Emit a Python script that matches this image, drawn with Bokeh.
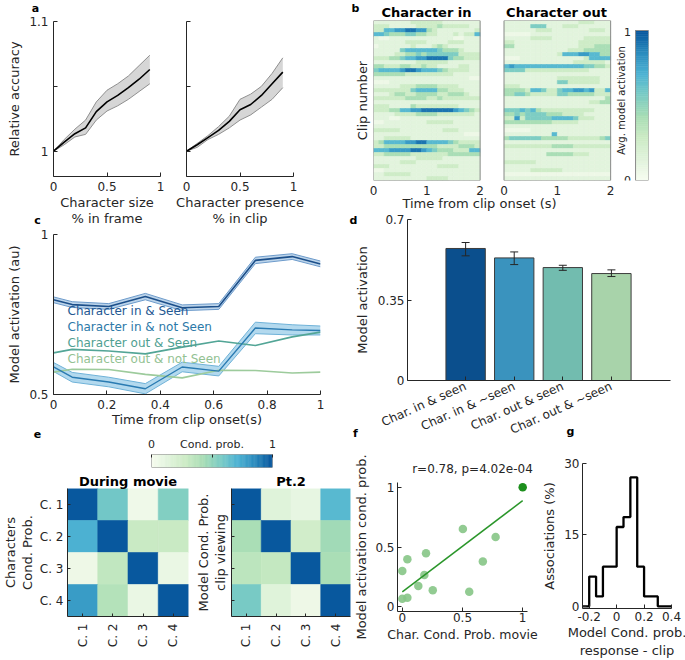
import numpy as np
from bokeh.plotting import figure
from bokeh.layouts import row, column
from bokeh.models import (Range1d, Label, ColumnDataSource, CustomJSTickFormatter,
                          Whisker, TeeHead)
from bokeh.transform import linear_cmap
from bokeh.embed import file_html
from bokeh.resources import INLINE

FONT = "DejaVu Sans"
INK = "#262626"

# ---------------- data ----------------
# panel a
A_X = [0.0, 0.1, 0.2, 0.3, 0.4, 0.5, 0.6, 0.7, 0.8, 0.9]
SIZE_MEAN = [1.000, 1.007, 1.0135, 1.018, 1.0305, 1.038, 1.043, 1.049, 1.0555, 1.063]
SIZE_UP = [1.000, 1.009, 1.017, 1.024, 1.038, 1.047, 1.052, 1.058, 1.066, 1.074]
SIZE_LO = [1.000, 1.005, 1.011, 1.013, 1.024, 1.031, 1.035, 1.040, 1.046, 1.052]
PRES_MEAN = [1.000, 1.005, 1.0105, 1.016, 1.023, 1.032, 1.036, 1.043, 1.052, 1.061]
PRES_UP = [1.000, 1.006, 1.012, 1.019, 1.027, 1.040, 1.044, 1.050, 1.060, 1.072]
PRES_LO = [1.000, 1.003, 1.009, 1.013, 1.018, 1.024, 1.028, 1.034, 1.040, 1.049]

# panel b (levels 0-9 per time bin, rows = clips, top to bottom)
B_DT = 0.1
CHAR_IN = [
    "22222 22333 33322 22222", "33322 22233 33433 33322", "33667 78877 43222 22223",
    "66544 45544 33222 32336", "21122 22222 22222 11222", "22222 23333 22223 33222",
    "12222 22322 23432 22222", "22222 56666 66544 43222", "22223 34454 55555 53333",
    "33344 56677 88885 44333", "22222 22233 33332 22222", "44333 44334 33222 23322",
    "56666 78876 66543 33322", "44444 43333 33333 22222", "22222 22222 22222 22211",
    "11122 22222 22222 22222", "22222 33344 44333 32222", "33333 33566 66443 33222",
    "22234 43344 44334 44322", "33333 34444 33433 33333", "22222 22222 22222 22222",
    "33322 22433 33333 32222", "33344 66778 88888 76543", "22223 33344 44333 33332",
    "22211 22222 22222 22222", "11222 22222 33333 22222", "22222 22222 22222 22222",
    "33333 22222 22233 32222", "22222 22222 22222 22111", "22333 33222 22222 22222",
    "34666 67788 66665 43333", "33444 44444 44333 34443", "66677 77887 65444 33366",
    "33444 44333 33334 44444", "22222 22233 33322 22222", "22222 33322 22222 22222",
    "33322 22222 22333 32222", "11222 22222 22222 22222", "22333 33222 22222 22222",
    "22222 22222 33332 22222",
]
CHAR_OUT = [
    "22222 22222 22223 33222", "22222 55522 23332 22222", "22222 23332 22222 23332",
    "11111 22222 22222 22222", "22222 33332 22222 33333", "33222 22222 22223 33333",
    "44222 22222 22223 33444", "22222 22222 22333 44444", "22222 22222 36667 76644",
    "11122 22222 22222 36666", "22222 22222 22233 33332", "67666 66666 66666 55443",
    "55553 33333 33333 32222", "22222 22222 22222 22222", "22222 22222 33333 33322",
    "22222 22222 55333 33322", "33322 22222 22222 22222", "44443 66533 56677 67336",
    "44554 33333 55444 44333", "22222 22222 22222 22224", "22222 22222 22222 23344",
    "22222 22222 22222 22222", "55565 64333 33333 33222", "44545 55544 43333 22222",
    "33735 55556 66653 33222", "44444 44443 33332 22222", "22222 22222 22222 22222",
    "11111 22222 22222 22222", "22222 22226 22222 22222", "45555 55444 44333 33345",
    "22222 22222 22222 22222", "33333 33334 44433 33333", "22222 22222 22222 22222",
    "22222 22244 44433 32222", "22222 22222 22222 22222", "33333 32222 22222 22222",
    "22222 22222 22222 22222", "22222 33333 32222 22222", "11111 11111 11111 11111",
    "22222 22222 22222 22222",
]
LEVEL_VALUE = [0.0, 0.06, 0.13, 0.27, 0.42, 0.56, 0.68, 0.80, 0.92, 1.0]

# panel c
C_X = [0.0, 0.07, 0.207, 0.344, 0.482, 0.619, 0.756, 0.894, 1.0]
IN_SEEN = [0.796, 0.781, 0.775, 0.806, 0.771, 0.775, 0.919, 0.931, 0.908]
IN_SEEN_ERR = [0.009, 0.009, 0.009, 0.010, 0.009, 0.009, 0.010, 0.009, 0.009]
IN_NOT = [0.586, 0.554, 0.539, 0.518, 0.586, 0.573, 0.708, 0.702, 0.700]
IN_NOT_ERR = [0.014, 0.015, 0.015, 0.016, 0.015, 0.015, 0.018, 0.016, 0.014]
OUT_SEEN = [0.630, 0.641, 0.636, 0.627, 0.648, 0.667, 0.653, 0.680, 0.695]
OUT_NOT = [0.570, 0.579, 0.578, 0.563, 0.552, 0.576, 0.575, 0.567, 0.570]
C_LEGEND = ["Character in & Seen", "Character in & not Seen",
            "Character out & Seen", "Character out &  not Seen"]

# panel d
D_LABELS = ["Char. in & seen", "Char. in & ~seen", "Char. out & seen", "Char. out & ~seen"]
D_VALUES = [0.574, 0.533, 0.491, 0.465]
D_UP = [0.600, 0.559, 0.501, 0.481]
D_LO = [0.542, 0.504, 0.479, 0.452]

# panel e
E_LABELS = ["C. 1", "C. 2", "C. 3", "C. 4"]
E_MOVIE = [[1.00, 0.60, 0.05, 0.55],
           [0.72, 1.00, 0.30, 0.30],
           [0.06, 0.33, 1.00, 0.08],
           [0.80, 0.38, 0.08, 1.00]]
E_PT2 = [[1.00, 0.15, 0.10, 0.68],
         [0.42, 1.00, 0.25, 0.45],
         [0.35, 0.32, 1.00, 0.42],
         [0.58, 0.15, 0.06, 1.00]]

# panel f
F_X = [0.503, 0.775, 0.669, 0.556, 0.197, 0.042, 0.0, 0.183, 0.133, 0.253, 0.0, 0.042]
F_Y = [0.650, 0.583, 0.378, 0.126, 0.448, 0.398, 0.300, 0.266, 0.174, 0.137, 0.067, 0.076]
F_DIAG_X = [1.0]
F_DIAG_Y = [1.0]
FIT_X = [0.0, 1.0]
FIT_Y = [0.124, 0.888]
F_STAT = "r=0.78, p=4.02e-04"

# panel g
G_EDGES = [-0.25, -0.2, -0.15, -0.1, -0.05, 0.0, 0.05, 0.1, 0.15, 0.2, 0.25, 0.3, 0.35, 0.4]
G_PCT = [0.0, 6.25, 2.08, 8.33, 8.33, 16.67, 18.75, 27.08, 8.33, 2.08, 2.08, 0.0, 0.0]

# ---------------- helpers ----------------
GNBU8 = ["#f7fcf0", "#e0f3db", "#ccebc5", "#a8ddb5", "#7bccc4", "#4eb3d3", "#2b8cbe", "#08589e"]


def make_palette(anchors, n=256):
    rgb = np.array([[int(c[i:i + 2], 16) for i in (1, 3, 5)] for c in anchors], float)
    pos = np.linspace(0, 1, len(anchors))
    out = []
    for v in np.linspace(0, 1, n):
        r, g, b = (np.interp(v, pos, rgb[:, k]) for k in range(3))
        out.append("#%02x%02x%02x" % (int(round(r)), int(round(g)), int(round(b))))
    return out


PAL = make_palette(GNBU8)
JSFMT = "return String(tick);"
BLANK = "return '';"
PAGE_W, PAGE_H = 685, 660


def fig_at(box, frame, xr, yr, **kw):
    bx0, by0, bx1, by1 = box
    fx0, fx1, fy0, fy1 = frame
    p = figure(width=bx1 - bx0, height=by1 - by0,
               x_range=Range1d(*xr), y_range=Range1d(*yr),
               min_border_left=fx0 - bx0, min_border_right=bx1 - fx1,
               min_border_top=fy0 - by0, min_border_bottom=by1 - fy1,
               output_backend="svg", toolbar_location=None, **kw)
    p.grid.grid_line_color = None
    p.outline_line_color = None
    p.border_fill_color = "white"
    p.background_fill_color = "white"
    for ax in p.axis:
        ax.axis_line_color = INK
        ax.major_tick_line_color = INK
        ax.major_tick_in = 4
        ax.major_tick_out = 0
        ax.minor_tick_line_color = None
        ax.major_label_text_font = FONT
        ax.major_label_text_font_size = "12px"
        ax.major_label_text_color = INK
        ax.axis_label_text_font = FONT
        ax.axis_label_text_font_size = "13px"
        ax.axis_label_text_font_style = "normal"
        ax.axis_label_text_color = INK
    return p


cm = linear_cmap("v", PAL, 0, 1)


# ---------------- panel a ----------------
def panel_a(box, frame, mean, up, lo, xlabel, show_ylab):
    p = fig_at(box, frame, (0, 1), (0.9805, 1.1))
    p.varea(x=A_X, y1=lo, y2=up, fill_color="#d6d6d6")
    p.line(A_X, up, line_color="#8f8f8f", line_width=1)
    p.line(A_X, lo, line_color="#8f8f8f", line_width=1)
    p.line(A_X, mean, line_color="black", line_width=1.6)
    p.xaxis.ticker = [0, 0.5, 1]
    p.xaxis.formatter = CustomJSTickFormatter(code=JSFMT)
    p.yaxis.ticker = [1, 1.05, 1.1]
    p.xaxis.axis_label = xlabel
    p.xaxis.major_label_standoff = 5
    p.xaxis.axis_label_standoff = 1
    p.xaxis.axis_label_text_line_height = 1.1
    if show_ylab:
        p.yaxis.formatter = CustomJSTickFormatter(
            code="return Math.abs(tick - 1.05) < 1e-9 ? '' : String(tick);")
        p.yaxis.axis_label = "Relative accuracy"
        p.yaxis.major_label_standoff = 5
        p.yaxis.axis_label_standoff = 4
    else:
        p.yaxis.formatter = CustomJSTickFormatter(code=BLANK)
    return p


A1 = panel_a((0, 0, 175, 229), (53, 160, 21, 180), SIZE_MEAN, SIZE_UP, SIZE_LO,
             "Character size\n% in frame", True)
A2 = panel_a((175, 0, 351, 229), (186, 293, 21, 180), PRES_MEAN, PRES_UP, PRES_LO,
             "Character presence\n% in clip", False)

# ---------------- panel b ----------------
N_ROWS = len(CHAR_IN)
N_COLS = len(CHAR_IN[0].replace(" ", ""))
SPAN = N_COLS * B_DT
B_PX = 107.0 / SPAN               # px per second in the reference
B_OFF = 131.0 / B_PX              # start of the second heat map
B_CB0, B_CB1 = 263.0 / B_PX, 276.0 / B_PX
B = fig_at((351, 0, PAGE_W, 211), (372, 648, 20, 180), (0, 276.0 / B_PX), (0, N_ROWS))
hx, hy, hv = [], [], []
for off, rows in ((0.0, CHAR_IN), (B_OFF, CHAR_OUT)):
    for r, s in enumerate(rows):
        for c, ch in enumerate(s.replace(" ", "")):
            hx.append(off + (c + 0.5) * B_DT)
            hy.append(N_ROWS - r - 0.5)
            hv.append(LEVEL_VALUE[int(ch)])
B.rect(x="x", y="y", width=B_DT, height=1, source=ColumnDataSource(dict(x=hx, y=hy, v=hv)),
       fill_color=cm, line_color=cm, line_width=0.6)
CB_TOP = N_ROWS * 150.0 / 160.0
cbv = np.linspace(0, 1, 80)
B.rect(x=(B_CB0 + B_CB1) / 2, y="yy", width=B_CB1 - B_CB0, height=CB_TOP / 80,
       source=ColumnDataSource(dict(v=cbv, yy=(cbv * 79 / 80 + 0.5 / 80) * CB_TOP)),
       fill_color=cm, line_color=cm, line_width=0.6)
B.quad(left=[0, B_OFF, B_CB0], right=[SPAN, B_OFF + SPAN, B_CB1], bottom=[0, 0, 0],
       top=[N_ROWS, N_ROWS, CB_TOP], fill_color=None, line_color="#8a8a8a", line_width=1)
B.xaxis.ticker = [0, 1, 2, B_OFF, B_OFF + 1, B_OFF + 2]
B.xaxis.formatter = CustomJSTickFormatter(
    args=dict(off=B_OFF), code="var t = tick > 2.2 ? tick - off : tick; return String(Math.round(t));")
B.xaxis.axis_line_color = None
B.xaxis.major_tick_line_color = None
B.xaxis.major_label_standoff = 5
B.yaxis.ticker = []
B.yaxis.axis_line_color = None
B.yaxis.axis_label = "Clip number"
B.yaxis.axis_label_standoff = 4
BL = dict(text_font=FONT, text_color=INK, text_baseline="middle", text_align="center")
cb_px = CB_TOP / 150.0  # data units per reference pixel (vertical)
B.add_layout(Label(x=255.0 / B_PX, y=CB_TOP - 1 * cb_px, text="1", text_font_size="11px", **BL))
B.add_layout(Label(x=255.0 / B_PX, y=1 * cb_px, text="0", text_font_size="11px", **BL))
B.add_layout(Label(x=249.0 / B_PX, y=CB_TOP / 2 + 5 * cb_px, text="Avg. model activation",
                   text_font_size="10px", angle=np.pi / 2, **BL))

# ---------------- panel c ----------------
C = fig_at((0, 229, 351, 429), (53, 320, 234, 394), (0, 1), (0.5, 1))
for mean, err, fill, edge in ((IN_NOT, IN_NOT_ERR, "#abd5ec", "#6fb2d8"),
                              (IN_SEEN, IN_SEEN_ERR, "#b5cfe8", "#6d9bcb")):
    up = [m + e for m, e in zip(mean, err)]
    lo = [m - e for m, e in zip(mean, err)]
    C.varea(x=C_X, y1=lo, y2=up, fill_color=fill, fill_alpha=0.9)
    C.line(C_X, up, line_color=edge, line_width=1)
    C.line(C_X, lo, line_color=edge, line_width=1)
C_LINE_COLORS = ["#1c4f8a", "#2a7bb2", "#52a596", "#9dcb9c"]
C_TEXT_COLORS = ["#245892", "#2c79a8", "#4f9f92", "#93c293"]
C.line(C_X, OUT_NOT, line_color=C_LINE_COLORS[3], line_width=1.6)
C.line(C_X, OUT_SEEN, line_color=C_LINE_COLORS[2], line_width=1.6)
C.line(C_X, IN_NOT, line_color=C_LINE_COLORS[1], line_width=1.4)
C.line(C_X, IN_SEEN, line_color=C_LINE_COLORS[0], line_width=1.6)
c_px = 0.5 / 160.0
for i, (txt, col) in enumerate(zip(C_LEGEND, C_TEXT_COLORS)):
    C.add_layout(Label(x=14.0 / 267.0, y=1 - (76 + 16 * i) * c_px, text=txt, text_font=FONT,
                       text_font_size="12px", text_color=col, text_align="left",
                       text_baseline="middle"))
C.xaxis.ticker = [0, 0.2, 0.4, 0.6, 0.8, 1]
C.xaxis.formatter = CustomJSTickFormatter(code=JSFMT)
C.yaxis.ticker = [0.5, 1]
C.yaxis.formatter = CustomJSTickFormatter(code=JSFMT)
C.xaxis.axis_label = "Time from clip onset(s)"
C.yaxis.axis_label = "Model activation (au)"
C.xaxis.major_label_standoff = 5
C.xaxis.axis_label_standoff = 0
C.yaxis.major_label_standoff = 5
C.yaxis.axis_label_standoff = 4

# ---------------- panel d ----------------
D_X = list(range(1, len(D_VALUES) + 1))
D_COLORS = ["#0b4f8d", "#3a93be", "#72bcaf", "#a8d3aa"]
D = fig_at((351, 211, PAGE_W, 446), (403, 670, 219, 380), (-0.196, 5.216), (0, 0.7))
D.vbar(x=D_X, top=D_VALUES, width=0.81, fill_color=D_COLORS, line_color="#3c3c3c", line_width=1)
D.add_layout(Whisker(source=ColumnDataSource(dict(x=D_X, up=D_UP, lo=D_LO)),
                     base="x", upper="up", lower="lo", line_color=INK, line_width=1,
                     upper_head=TeeHead(size=8, line_color=INK, line_width=1),
                     lower_head=TeeHead(size=8, line_color=INK, line_width=1),
                     level="overlay"))
D.xaxis.ticker = D_X
D.xaxis.major_label_overrides = {i: t for i, t in zip(D_X, D_LABELS)}
D.xaxis.major_label_orientation = 0.42
D.xaxis.major_label_standoff = 5
D.yaxis.ticker = [0, 0.35, 0.7]
D.yaxis.formatter = CustomJSTickFormatter(code=JSFMT)
D.yaxis.axis_label = "Model activation"
D.yaxis.major_label_standoff = 3
D.yaxis.axis_label_standoff = 5

# ---------------- panel e ----------------
ECB = fig_at((0, 429, 351, 470), (151, 272, 454, 467), (0, 1), (0, 1),
             x_axis_location="above", y_axis_location=None)
ev = np.linspace(0, 1, 100)
ECB.rect(x="xx", y=0.5, width=1.0 / 100, height=1,
         source=ColumnDataSource(dict(v=ev, xx=ev * 0.99 + 0.005)),
         fill_color=cm, line_color=cm, line_width=0.6)
ECB.quad(left=[0], right=[1], bottom=[0], top=[1], fill_color=None, line_color="#7a7a7a", line_width=1)
ECB.xaxis.ticker = [0, 0.5, 1]
ECB.xaxis.formatter = CustomJSTickFormatter(
    code="return tick == 0 ? '0' : (tick == 1 ? '1' : 'Cond. prob.');")
ECB.xaxis.major_label_text_font_size = "11px"
ECB.xaxis.axis_line_color = None
ECB.xaxis.major_tick_in = 3
ECB.xaxis.major_label_standoff = 4


def matrix_fig(box, frame, data, title, ylab, show_yticks):
    p = fig_at(box, frame, (0.5, 4.5), (4.5, 0.5))
    xs, ys, vs = [], [], []
    for r, rowv in enumerate(data):
        for c, v in enumerate(rowv):
            xs.append(c + 1)
            ys.append(r + 1)
            vs.append(v)
    p.rect(x="x", y="y", width=1, height=1, source=ColumnDataSource(dict(x=xs, y=ys, v=vs)),
           fill_color=cm, line_color=cm, line_width=0.6)
    p.title.text = title
    p.title.text_font = FONT
    p.title.text_font_size = "13px"
    p.title.text_font_style = "bold"
    p.title.text_color = "black"
    p.title.align = "center"
    p.title.standoff = 0
    ticks = list(range(1, len(E_LABELS) + 1))
    over = {i: t for i, t in zip(ticks, E_LABELS)}
    for ax in (p.xaxis, p.yaxis):
        ax.ticker = ticks
        ax.major_tick_in = 3
    p.xaxis.major_label_overrides = over
    p.xaxis.major_label_orientation = np.pi / 2
    p.xaxis.major_label_standoff = 7
    p.yaxis.axis_label = ylab
    p.yaxis.axis_label_text_line_height = 1.1
    if show_yticks:
        p.yaxis.major_label_overrides = over
        p.yaxis.major_label_standoff = 4
        p.yaxis.axis_label_standoff = 2
    else:
        p.yaxis.formatter = CustomJSTickFormatter(code=BLANK)
        p.yaxis.axis_label_standoff = 4
    return p


E1 = matrix_fig((0, 470, 192, PAGE_H), (64, 188, 488, 616), E_MOVIE, "During movie",
                "Characters\nCond. Prob.", True)
E2 = matrix_fig((192, 470, 351, PAGE_H), (226, 350, 488, 616), E_PT2, "Pt.2",
                "Model Cond. Prob.\nclip viewing", False)

# ---------------- panel f ----------------
F = fig_at((351, 446, 539, PAGE_H), (397, 527, 482, 611), (-0.04, 1.04), (-0.04, 1.04))
F.scatter(F_X, F_Y, size=8.5, fill_color="#86c586", line_color=None, fill_alpha=0.9)
F.scatter(F_DIAG_X, F_DIAG_Y, size=8.5, fill_color="#1d8f1d", line_color=None)
F.line(FIT_X, FIT_Y, line_color="#2a962a", line_width=1.5)
F.xaxis.ticker = [0, 0.5, 1]
F.yaxis.ticker = [0, 0.5, 1]
F.xaxis.formatter = CustomJSTickFormatter(code=JSFMT)
F.yaxis.formatter = CustomJSTickFormatter(code=JSFMT)
F.xaxis.axis_label = "Char. Cond. Prob. movie"
F.xaxis.axis_label_text_font_size = "12.5px"
F.yaxis.axis_label = "Model activation cond. prob."
F.xaxis.major_label_standoff = 1
F.xaxis.axis_label_standoff = 2
F.yaxis.major_label_standoff = 3
F.yaxis.axis_label_standoff = 3

# ---------------- panel g ----------------
G = fig_at((539, 446, PAGE_W, PAGE_H), (578, 671, 463, 608), (-0.249, 0.4), (-0.45, 30))
G.step(x=G_EDGES, y=G_PCT + [G_PCT[-1]], mode="after", line_color="black", line_width=2.3)
G.xaxis.ticker = [-0.2, 0, 0.2, 0.4]
G.yaxis.ticker = [0, 15, 30]
G.xaxis.formatter = CustomJSTickFormatter(code=JSFMT)
G.yaxis.formatter = CustomJSTickFormatter(code=JSFMT)
G.xaxis.axis_label = "Model Cond. prob.\nresponse - clip"
G.xaxis.axis_label_text_line_height = 1.2
G.yaxis.axis_label = "Associations (%)"
G.xaxis.major_label_standoff = 3
G.xaxis.axis_label_standoff = 1
G.yaxis.major_label_standoff = 3
G.yaxis.axis_label_standoff = 4

# ---------------- floating texts (panel letters, titles) ----------------
OV = figure(width=PAGE_W, height=PAGE_H, x_range=Range1d(0, PAGE_W), y_range=Range1d(PAGE_H, 0),
            min_border=0, x_axis_location=None, y_axis_location=None, title=None,
            output_backend="svg", toolbar_location=None)
OV.grid.grid_line_color = None
OV.outline_line_color = None
OV.border_fill_color = None
OV.background_fill_color = None
FLOAT = [("a", 35, 8, "11px", "bold"), ("b", 355, 8, "11px", "bold"),
         ("c", 37, 220, "11px", "bold"), ("d", 353, 220, "11px", "bold"),
         ("e", 37, 433, "11px", "bold"), ("f", 355, 433, "11px", "bold"),
         ("g", 570, 431, "11px", "bold"),
         ("Character in", 426, 12, "13px", "bold"), ("Character out", 556, 12, "13px", "bold"),
         ("Time from clip onset (s)", 479, 203, "13px", "normal"),
         (F_STAT, 472, 468, "12px", "normal")]
for txt, x, y, fs, st in FLOAT:
    OV.add_layout(Label(x=x, y=y, text=txt, text_font=FONT, text_font_size=fs,
                        text_font_style=st, text_color="black" if st == "bold" else INK,
                        text_align="center", text_baseline="middle"))
OV.margin = (-PAGE_H, 0, 0, 0)

# ---------------- layout ----------------
left = column(row(A1, A2), row(C), row(ECB), row(E1, E2))
right = column(row(B), row(D), row(row(F), row(G)))
main = row(left, right)
page = column(main, OV)
open("out.html", "w").write(file_html(page, INLINE, "Figure"))
